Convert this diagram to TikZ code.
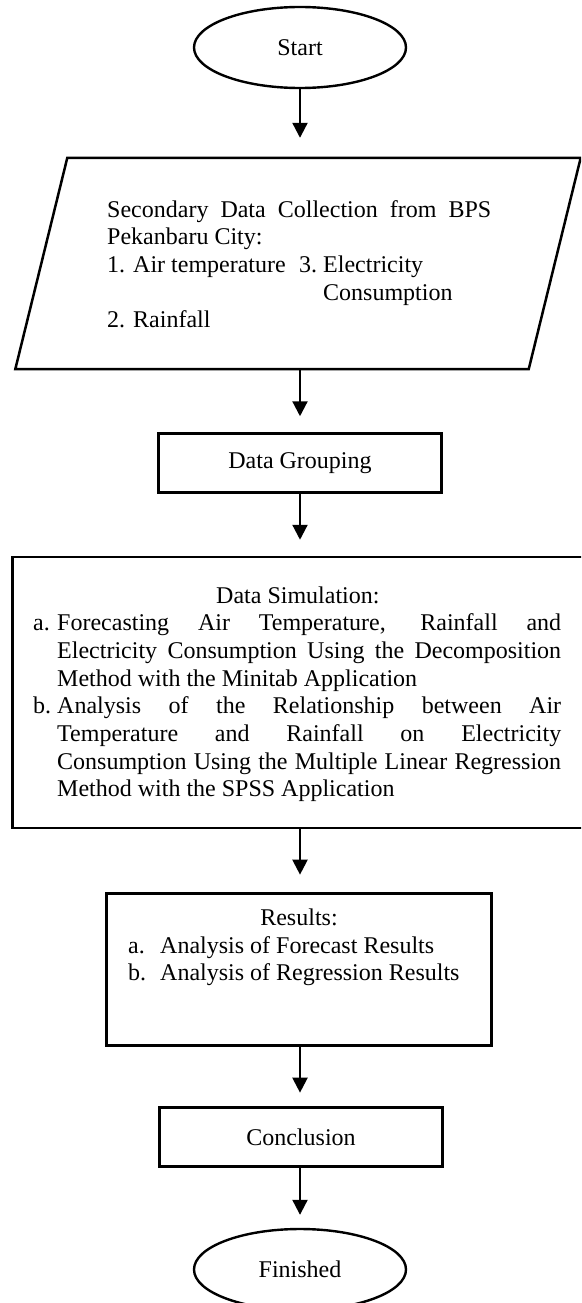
\documentclass[tikz,border=0pt]{standalone}
\usepackage{fontspec}
\setmainfont{Liberation Serif}
\usetikzlibrary{shapes.geometric,arrows.meta}
\newcommand{\jline}[2]{\makebox[#1][s]{#2}}
\begin{document}
\begin{tikzpicture}[x=1pt,y=-1pt,
  every node/.style={font=\fontsize{24}{27.7}\selectfont, inner sep=0pt},
  term/.style={ellipse, draw, line width=2.4pt, minimum width=212pt, minimum height=81pt},
  procbox/.style={rectangle, draw, line width=2.5pt},
  txt/.style={anchor=base west},
  ctxt/.style={anchor=base},
  flow/.style={line width=2.2pt, -{Triangle[width=15pt,length=15pt]}}
]
\clip (0,0) rectangle (581,1303);
\useasboundingbox (0,0) rectangle (581,1303);

% Start
\node[term] (start) at (300,47.5) {Start};

% Parallelogram (data collection)
\node[minimum width=513pt, minimum height=211pt] (para) at (298,263.5) {};
\draw[line width=2.5pt, line join=miter] ([xshift=26pt]para.north west) -- ([xshift=26pt]para.north east)
  -- ([xshift=-26pt]para.south east) -- ([xshift=-26pt]para.south west) -- cycle;
\node[txt] (p1) at (107,217) {\jline{384pt}{Secondary Data Collection from BPS}};
\node[txt] (p2) at (107,244.6) {Pekanbaru City:};
\node[txt] (p3) at (107,272.3) {\makebox[192pt][l]{1. Air temperature}\makebox[24pt][l]{3.}Electricity};
\node[txt] (p4) at (323,300) {Consumption};
\node[txt] (p5) at (107,327.4) {2. Rainfall};

% Data grouping
\node[procbox, minimum width=283pt, minimum height=59pt] (dg) at (300,463) {Data Grouping};

% Data simulation
\node[procbox, minimum width=600pt, minimum height=271pt] (ds) at (312.5,692.5) {};
\node[txt] (ds0) at (216,603) {Data Simulation:};
\node[txt] (dsa) at (33,630.7) {a.};
\node[txt] (dsa1) at (57,630.7) {\jline{504pt}{Forecasting Air Temperature, Rainfall and}};
\node[txt] (dsa2) at (57,658.4) {\jline{504pt}{Electricity Consumption Using the Decomposition}};
\node[txt] (dsa3) at (57,686.1) {Method with the Minitab Application};
\node[txt] (dsb) at (33,713.8) {b.};
\node[txt] (dsb1) at (57,713.8) {\jline{504pt}{Analysis of the Relationship between Air}};
\node[txt] (dsb2) at (57,741.5) {\jline{504pt}{Temperature and Rainfall on Electricity}};
\node[txt] (dsb3) at (57,769.2) {\jline{504pt}{Consumption Using the Multiple Linear Regression}};
\node[txt] (dsb4) at (57,796.9) {Method with the SPSS Application};

% Results
\node[procbox, minimum width=385pt, minimum height=152pt] (res) at (299,969.5) {};
\node[ctxt] (r0) at (299,925) {Results:};
\node[txt] (ra) at (128,953) {a.};
\node[txt] (ra1) at (160,953) {Analysis of Forecast Results};
\node[txt] (rb) at (128,980.5) {b.};
\node[txt] (rb1) at (160,980.5) {Analysis of Regression Results};

% Conclusion
\node[procbox, minimum width=283pt, minimum height=59pt] (con) at (301,1137) {Conclusion};

% Finished
\node[term] (fin) at (300,1269.5) {Finished};

% Connectors
\draw[flow, shorten >=20pt] (start.south) -- (start.south |- para.north);
\draw[flow, shorten >=16pt] (dg.north |- para.south) -- (dg.north);
\draw[flow, shorten >=16pt] (dg.south) -- (dg.south |- ds.north);
\draw[flow, shorten >=17.6pt] (dg.south |- ds.south) -- (dg.south |- res.north);
\draw[flow, shorten >=13.6pt] (dg.south |- res.south) -- (dg.south |- con.north);
\draw[flow, shorten >=13pt] (dg.south |- con.south) -- (fin.north);
\end{tikzpicture}
\end{document}
